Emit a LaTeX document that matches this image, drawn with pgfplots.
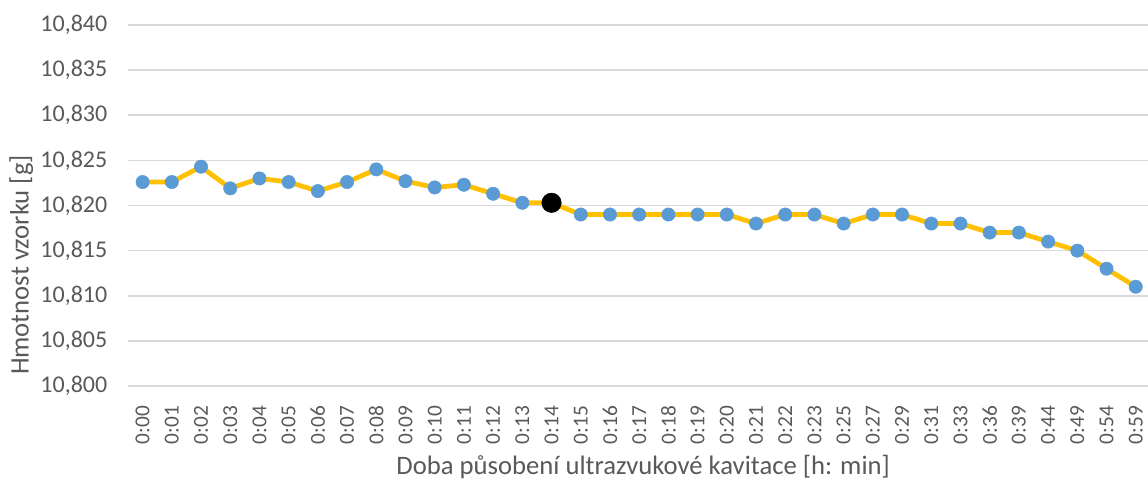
\documentclass[border=0pt]{standalone}
\usepackage{pgfplots}
\pgfplotsset{compat=1.18}
\usepackage{fontspec}
\setmainfont{Carlito}
\definecolor{linegold}{HTML}{FFC000}
\definecolor{markblue}{HTML}{5B9BD5}
\definecolor{gridgray}{HTML}{D9D9D9}
\definecolor{textgray}{HTML}{595959}
\begin{document}
\begin{tikzpicture}
\path[use as bounding box] (-96pt,-72pt) rectangle (765pt,289.5pt);
\begin{axis}[
  at={(0pt,0pt)}, anchor=south west,
  scale only axis,
  width=765pt, height=270.75pt,
  xmin=-0.5, xmax=34.42,
  ymin=10.800, ymax=10.840,
  ytick={10.800,10.805,10.810,10.815,10.820,10.825,10.830,10.835,10.840},
  xtick={0,...,34},
  xticklabels={0:00,0:01,0:02,0:03,0:04,0:05,0:06,0:07,0:08,0:09,0:10,0:11,0:12,0:13,0:14,0:15,0:16,0:17,0:18,0:19,0:20,0:21,0:22,0:23,0:25,0:27,0:29,0:31,0:33,0:36,0:39,0:44,0:49,0:54,0:59},
  axis line style={draw=none},
  ymajorgrids,
  grid style={gridgray, line width=1.2pt},
  major tick length=0pt,
  tick label style={textgray},
  yticklabel style={font=\fontsize{18}{20}\selectfont, /pgf/number format/.cd, fixed, fixed zerofill, precision=3, use comma, assume math mode=true},
  xticklabel style={font=\fontsize{16}{18}\selectfont, rotate=90, anchor=east, inner ysep=0.5pt},
  xticklabel shift=11.5pt,
  yticklabel shift=12pt,
  xlabel={Doba působení ultrazvukové kavitace [h: min]},
  ylabel={Hmotnost vzorku [g]},
  label style={textgray, font=\fontsize{20}{22}\selectfont},
  xlabel style={at={(axis description cs:0.505,0)}, anchor=center, yshift=-60.75pt},
  ylabel style={at={(axis description cs:0,0.335)}, anchor=center, yshift=80pt},
  clip=false,
]
\addplot[linegold, line width=3.6pt, line join=round,
  mark=*, mark size=5pt, mark options={draw=markblue, fill=markblue, line width=0.4pt}]
  coordinates {
  (0,10.8226) (1,10.8226) (2,10.8243) (3,10.8219) (4,10.8230) (5,10.8226)
  (6,10.8216) (7,10.8226) (8,10.8240) (9,10.8227) (10,10.8220) (11,10.8223)
  (12,10.8213) (13,10.8203) (14,10.8203) (15,10.819) (16,10.819) (17,10.819)
  (18,10.819) (19,10.819) (20,10.819) (21,10.818) (22,10.819) (23,10.819)
  (24,10.818) (25,10.819) (26,10.819) (27,10.818) (28,10.818) (29,10.817)
  (30,10.817) (31,10.816) (32,10.815) (33,10.813) (34,10.811)
  };
\addplot[only marks, mark=*, mark size=7.3pt, mark options={draw=black, fill=black, line width=0.4pt}]
  coordinates {(14,10.8203)};
\end{axis}
\end{tikzpicture}
\end{document}
